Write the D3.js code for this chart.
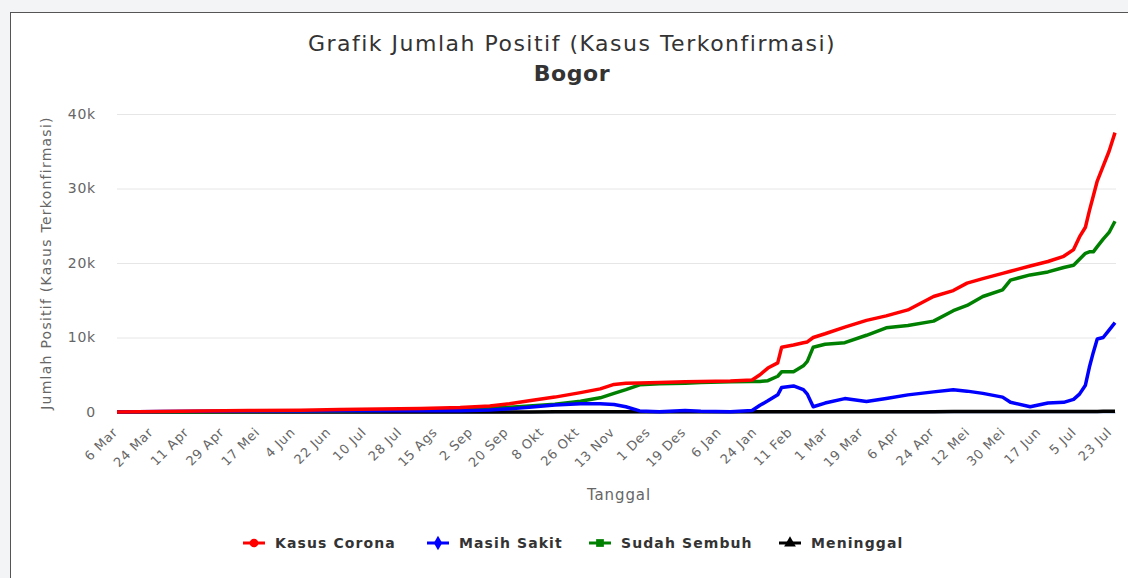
<!DOCTYPE html>
<html>
<head>
<meta charset="utf-8">
<script src="https://cdn.jsdelivr.net/npm/d3@7"></script>
<style>
  body { margin: 0; background: #f3f4f5; font-family: "DejaVu Sans", sans-serif; }
</style>
</head>
<body>
<div id="chart"></div>
<script>
// hari ke- sejak 6 Mar 2020
const hari = [0, 22, 42, 67, 93, 113, 133, 154, 174, 189, 199, 209, 222, 235, 245, 252, 258, 265, 275, 288,
  296, 311, 322, 326, 330, 335, 337, 343, 348, 350, 353, 359, 369, 380, 390, 401, 414, 424, 431, 439,
  449, 453, 463, 472, 480, 485, 488, 491, 493, 495, 497, 500, 503, 506];

const kasusCorona = [0, 60, 120, 200, 250, 320, 400, 480, 600, 800, 1100, 1500, 2000, 2600, 3100, 3700, 3850, 3900, 3950, 4050,
  4100, 4150, 4300, 5000, 5900, 6600, 8700, 9000, 9300, 9400, 10000, 10500, 11400, 12300, 12900, 13700, 15500, 16300, 17300, 17900,
  18600, 18900, 19600, 20200, 20900, 21800, 23500, 24800, 27000, 29000, 31000, 33000, 35000, 37500];

const masihSakit = [0, 55, 90, 130, 150, 170, 180, 170, 180, 260, 420, 650, 950, 1100, 1100, 1000, 700, 150, 50, 200,
  100, 30, 200, 900, 1500, 2300, 3300, 3500, 3000, 2400, 700, 1200, 1800, 1400, 1800, 2300, 2700, 3000, 2800, 2500,
  2000, 1300, 700, 1200, 1300, 1700, 2400, 3600, 6000, 8000, 9800, 10000, 11000, 12000];

const sudahSembuh = [0, 5, 25, 60, 90, 140, 210, 290, 390, 500, 650, 820, 1050, 1450, 1900, 2500, 3000, 3650, 3800, 3850,
  3950, 4050, 4100, 4100, 4200, 4800, 5400, 5400, 6200, 6800, 8700, 9100, 9300, 10300, 11300, 11600, 12200, 13600, 14300, 15500,
  16400, 17700, 18400, 18800, 19400, 19700, 20500, 21300, 21500, 21500, 22200, 23200, 24100, 25600];

const meninggal = [0, 1, 2, 4, 5, 6, 7, 8, 10, 12, 14, 16, 18, 20, 22, 24, 25, 26, 27, 28,
  29, 30, 31, 32, 33, 34, 35, 36, 37, 38, 39, 40, 42, 44, 46, 48, 50, 52, 54, 56,
  58, 60, 62, 64, 66, 68, 70, 72, 75, 78, 82, 86, 90, 95];

const tickLabels = ['6 Mar', '24 Mar', '11 Apr', '29 Apr', '17 Mei', '4 Jun', '22 Jun', '10 Jul', '28 Jul', '15 Ags',
  '2 Sep', '20 Sep', '8 Okt', '26 Okt', '13 Nov', '1 Des', '19 Des', '6 Jan', '24 Jan', '11 Feb',
  '1 Mar', '19 Mar', '6 Apr', '24 Apr', '12 Mei', '30 Mei', '17 Jun', '5 Jul', '23 Jul'];

const yTicks = [0, 10000, 20000, 30000, 40000];

const series = [
  { name: 'Kasus Corona', values: kasusCorona, color: '#ff0000', symbol: d3.symbolCircle },
  { name: 'Masih Sakit', values: masihSakit, color: '#0000ff', symbol: d3.symbolDiamond },
  { name: 'Sudah Sembuh', values: sudahSembuh, color: '#008000', symbol: d3.symbolSquare },
  { name: 'Meninggal', values: meninggal, color: '#000000', symbol: d3.symbolTriangle }
];

let width = 1128;
let height = 578;
let plotLeft = 117, plotRight = 1115, plotTop = 114, plotBottom = 412;

let svg = d3.select('#chart')
    .append('svg')
        .attr('width', width)
        .attr('height', height);

svg.append('rect')
    .attr('x', 10.5).attr('y', 12.5)
    .attr('width', width).attr('height', height)
    .attr('fill', '#fff')
    .attr('stroke', '#555');

let x = d3.scaleLinear().domain([0, 506]).range([plotLeft, plotRight]);
let y = d3.scaleLinear().domain([0, 40000]).range([plotBottom, plotTop]);

// judul
svg.append('text')
    .attr('x', 572).attr('y', 51)
    .attr('text-anchor', 'middle')
    .attr('font-size', 22)
    .attr('letter-spacing', 1.5)
    .attr('fill', '#333')
    .text('Grafik Jumlah Positif (Kasus Terkonfirmasi)');
svg.append('text')
    .attr('x', 572).attr('y', 81)
    .attr('text-anchor', 'middle')
    .attr('font-size', 22)
    .attr('letter-spacing', 0.6)
    .attr('font-weight', 'bold')
    .attr('fill', '#333')
    .text('Bogor');

// grid + sumbu y
let yAxis = svg.append('g')
    .attr('transform', 'translate(' + plotLeft + ',0)')
    .call(d3.axisLeft(y).tickValues(yTicks)
        .tickSize(-(plotRight - plotLeft + 1))
        .tickPadding(21)
        .tickFormat(d => d === 0 ? '0' : (d / 1000) + 'k'));
yAxis.select('.domain').remove();
yAxis.selectAll('line').attr('stroke', '#e6e6e6');
yAxis.selectAll('text').attr('fill', '#666').attr('font-size', 14)
    .attr('letter-spacing', 0.8)
    .attr('font-family', '"DejaVu Sans", sans-serif');

svg.append('text')
    .attr('transform', 'translate(51,' + ((plotTop + plotBottom) / 2) + ') rotate(-90)')
    .attr('text-anchor', 'middle')
    .attr('font-size', 14)
    .attr('letter-spacing', 1.25)
    .attr('fill', '#666')
    .text('Jumlah Positif (Kasus Terkonfirmasi)');

// sumbu x
let xAxis = svg.append('g')
    .attr('transform', 'translate(0,' + (plotBottom + 1) + ')')
    .call(d3.axisBottom(x).tickValues(tickLabels.map((d, i) => i * 18))
        .tickSize(0)
        .tickFormat((d, i) => tickLabels[i]));
xAxis.select('.domain').attr('stroke', '#ccd6eb');
xAxis.selectAll('text')
    .attr('fill', '#666')
    .attr('font-size', 13)
    .attr('letter-spacing', 0.7)
    .attr('font-family', '"DejaVu Sans", sans-serif')
    .attr('text-anchor', 'end')
    .attr('dy', null)
    .attr('y', 0)
    .attr('transform', 'translate(1,20) rotate(-45)');

svg.append('text')
    .attr('x', 619).attr('y', 500)
    .attr('text-anchor', 'middle')
    .attr('font-size', 15)
    .attr('letter-spacing', 0.9)
    .attr('fill', '#666')
    .text('Tanggal');

// garis
let line = d3.line()
    .x((d, i) => x(hari[i]))
    .y(d => y(d));

svg.selectAll('.garis')
    .data(series.slice().reverse())
    .enter().append('path')
        .attr('class', 'garis')
        .attr('d', d => line(d.values))
        .attr('fill', 'none')
        .attr('stroke', d => d.color)
        .attr('stroke-width', 3.5)
        .attr('stroke-linejoin', 'round');

// legenda
let legendX = [243, 427, 589, 779];
let legend = svg.selectAll('.legend')
    .data(series)
    .enter().append('g')
        .attr('class', 'legend')
        .attr('transform', (d, i) => 'translate(' + legendX[i] + ',543)');
legend.append('line')
    .attr('x1', 0).attr('x2', 22)
    .attr('stroke', d => d.color)
    .attr('stroke-width', 3);
legend.append('path')
    .attr('transform', 'translate(11,0)')
    .attr('d', d => d3.symbol().type(d.symbol).size(60)())
    .attr('fill', d => d.color);
legend.append('text')
    .attr('x', 32).attr('y', 5)
    .attr('font-size', 14)
    .attr('letter-spacing', 1.1)
    .attr('font-weight', 'bold')
    .attr('fill', '#333')
    .text(d => d.name);
</script>
</body>
</html>
